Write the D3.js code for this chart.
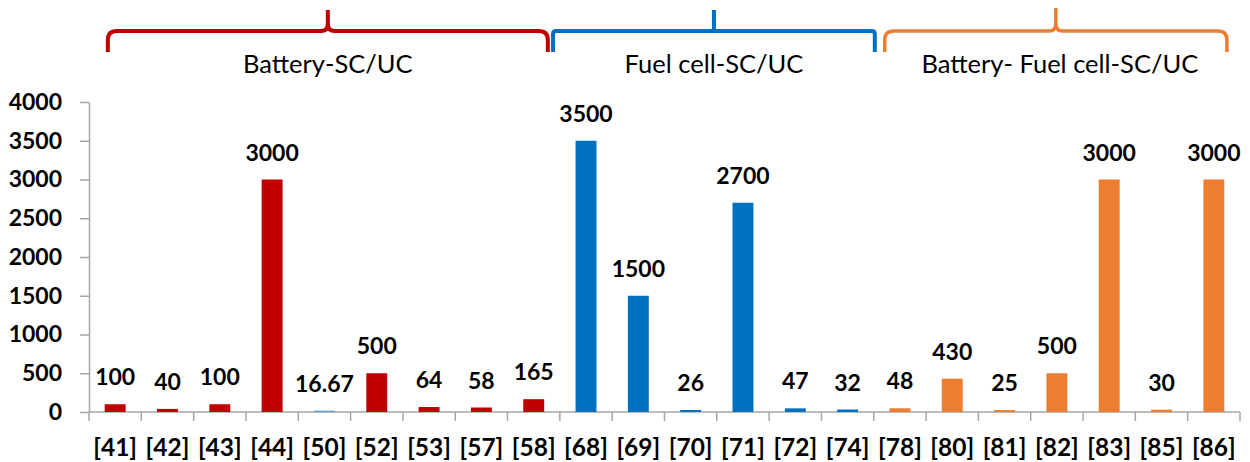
<!DOCTYPE html>
<html><head><meta charset="utf-8">
<script src="https://cdn.jsdelivr.net/npm/d3@7"></script>
<style>body{margin:0;background:#fff}svg{display:block}</style>
</head><body>
<script>
const categories = ["[41]","[42]","[43]","[44]","[50]","[52]","[53]","[57]","[58]","[68]","[69]","[70]","[71]","[72]","[74]","[78]","[80]","[81]","[82]","[83]","[85]","[86]"];
const values = [100,40,100,3000,16.67,500,64,58,165,3500,1500,26,2700,47,32,48,430,25,500,3000,30,3000];
const valueLabels = ["100","40","100","3000","16.67","500","64","58","165","3500","1500","26","2700","47","32","48","430","25","500","3000","30","3000"];
const groupOf = [0,0,0,0,0,0,0,0,0,1,1,1,1,1,1,2,2,2,2,2,2,2];
const groupNames = ["Battery-SC/UC","Fuel cell-SC/UC","Battery- Fuel cell-SC/UC"];
const yTicks = [0,500,1000,1500,2000,2500,3000,3500,4000];

const groupColors = ["#C00000","#0070C0","#ED7D31"];
const colorOverride = {"[50]":"#5B9BD5"};
// brace spans in band units
const braceSpans = [[0.36,8.77],[8.87,15.02],[15.21,21.75]];

const W=1250,H=462;
const svg=d3.select("body").append("svg").attr("width",W).attr("height",H);
const x=d3.scaleBand().domain(categories).range([89,1240]).padding(0);
const y=d3.scaleLinear().domain([0,4000]).range([412,102]);
const font="Lato, 'Open Sans', sans-serif";
const axisColor="#A6A6A6";

// y axis
const ya=svg.append("g").attr("transform","translate(89,0)")
  .call(d3.axisLeft(y).tickValues(yTicks).tickFormat(d3.format("d")).tickSize(9).tickPadding(18).tickSizeOuter(0));
ya.select(".domain").attr("stroke",axisColor).attr("stroke-width",1.5);
ya.selectAll(".tick line").attr("stroke",axisColor).attr("stroke-width",1.5);
ya.selectAll(".tick text").attr("font-family",font).attr("font-weight","bold").attr("font-size",23).attr("fill","#000");

// x axis line + ticks at band boundaries
const bw=x.bandwidth();
svg.append("line").attr("x1",89).attr("x2",1240).attr("y1",y(0)).attr("y2",y(0)).attr("stroke",axisColor).attr("stroke-width",1.5);
const bounds=d3.range(categories.length+1).map(i=>89+i*bw);
svg.selectAll(".xt").data(bounds).enter().append("line")
  .attr("x1",d=>d).attr("x2",d=>d).attr("y1",y(0)).attr("y2",y(0)+9).attr("stroke",axisColor).attr("stroke-width",1.5);
svg.selectAll(".xl").data(categories).enter().append("text")
  .attr("x",d=>x(d)+bw/2).attr("y",456).attr("text-anchor","middle")
  .attr("font-family",font).attr("font-weight","bold").attr("font-size",24.5).text(d=>d);

// bars
const barW=bw*0.4;
svg.selectAll(".bar").data(categories).enter().append("rect")
  .attr("x",d=>x(d)+bw/2-barW/2).attr("width",barW)
  .attr("y",(d,i)=>y(values[i])).attr("height",(d,i)=>y(0)-y(values[i]))
  .attr("fill",(d,i)=>colorOverride[d]||groupColors[groupOf[i]]);
svg.selectAll(".vl").data(categories).enter().append("text")
  .attr("x",d=>x(d)+bw/2).attr("y",(d,i)=>y(values[i])-19).attr("text-anchor","middle")
  .attr("font-family",font).attr("font-weight","bold").attr("font-size",23).text((d,i)=>valueLabels[i]);

// braces
const bx=u=>89+u*bw;
const yTop=31,yEnd=52;
braceSpans.forEach((s,g)=>{
  const a=bx(s[0]),b=bx(s[1]),c=(a+b)/2;
  const notchTop=g===2?8:10;
  let p;
  if(g===1){
    p=`M${a},${yEnd} L${a},${yTop+3} Q${a},${yTop} ${a+3},${yTop} L${b-3},${yTop} Q${b},${yTop} ${b},${yTop+3} L${b},${yEnd} M${c},${yTop} L${c},${notchTop}`;
  } else {
    p=`M${a},${yEnd} L${a},${yTop+9} Q${a},${yTop} ${a+9},${yTop} L${c-7},${yTop} Q${c},${yTop} ${c},${yTop-7} L${c},${notchTop} M${c},${yTop-7} Q${c},${yTop} ${c+7},${yTop} L${b-9},${yTop} Q${b},${yTop} ${b},${yTop+9} L${b},${yEnd}`;
  }
  svg.append("path").attr("d",p).attr("fill","none").attr("stroke",groupColors[g]).attr("stroke-width",g===2?3.5:4);
  svg.append("text").attr("x",c+(g===2?4:0)).attr("y",73).attr("text-anchor","middle")
    .attr("font-family",font).attr("font-size",25.5).attr("fill","#000").text(groupNames[g]);
});
</script>
</body></html>
